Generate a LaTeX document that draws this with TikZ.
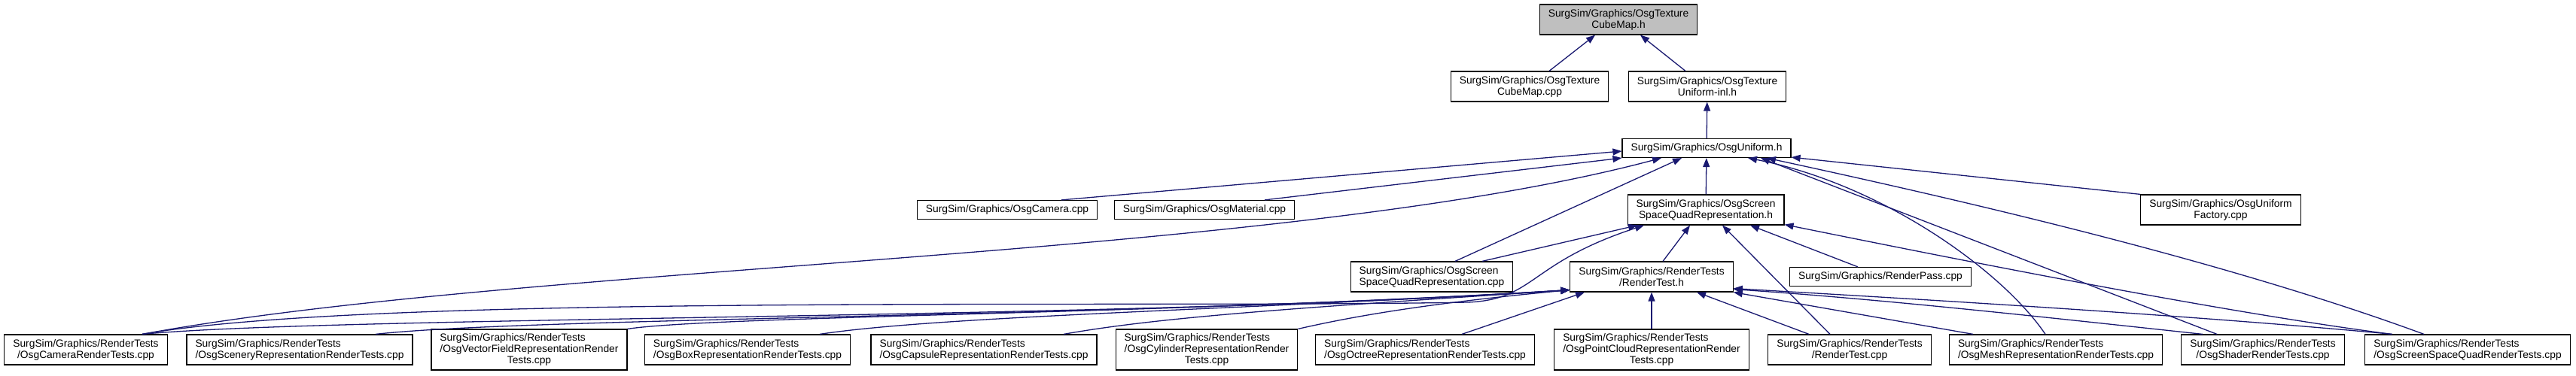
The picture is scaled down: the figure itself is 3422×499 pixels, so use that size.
\documentclass[tikz,border=0pt]{standalone}
\usepackage{fontspec}
\setmainfont{Liberation Sans}
\usetikzlibrary{arrows.meta}
\definecolor{cEDGE}{HTML}{191970}
\definecolor{cCUR}{HTML}{BFBFBF}
\newcommand{\tlab}[3]{\begin{tabular}{@{}l@{}}#1\\#2\\\multicolumn{1}{@{}c@{}}{#3}\end{tabular}}

\begin{document}
\begin{tikzpicture}[x=1pt, y=-1pt, >={Triangle[length=12pt,width=9pt]},
  font=\fontsize{13.8}{15}\selectfont,
  hdr/.style={draw, line width=1.2pt, fill=white, inner xsep=11.5pt, inner ysep=2pt, align=center},
  one/.style={hdr, minimum height=25pt},
  two/.style={hdr, minimum height=40pt},
  three/.style={hdr, minimum height=54pt},
  inc/.style={->, color=cEDGE, line width=1.3pt}]
\useasboundingbox (0,0) rectangle (3422,499);

\node[two, fill=cCUR] (cubeh) at (2150,26) {SurgSim/Graphics/OsgTexture\\CubeMap.h};
\node[two] (cubecpp) at (2032,115) {SurgSim/Graphics/OsgTexture\\CubeMap.cpp};
\node[two] (uniinl) at (2268,115) {SurgSim/Graphics/OsgTexture\\Uniform-inl.h};
\node[one] (uniformh) at (2267,197) {SurgSim/Graphics/OsgUniform.h};

\node[one] (camera) at (1338,279) {SurgSim/Graphics/OsgCamera.cpp};
\node[one] (material) at (1600,279) {SurgSim/Graphics/OsgMaterial.cpp};
\node[two] (sqrh) at (2266,279) {SurgSim/Graphics/OsgScreen\\SpaceQuadRepresentation.h};
\node[two] (factory) at (2950,279) {SurgSim/Graphics/OsgUniform\\Factory.cpp};

\node[two, align=left] (sqrcpp) at (1902,368) {SurgSim/Graphics/OsgScreen\\SpaceQuadRepresentation.cpp};
\node[two] (rth) at (2194,368) {SurgSim/Graphics/RenderTests\\/RenderTest.h};
\node[one] (renderpass) at (2498,368) {SurgSim/Graphics/RenderPass.cpp};

\node[two] (camrt) at (114,465) {SurgSim/Graphics/RenderTests\\/OsgCameraRenderTests.cpp};
\node[two, align=left] (scenery) at (398,465) {SurgSim/Graphics/RenderTests\\/OsgSceneryRepresentationRenderTests.cpp};
\node[three] (vector) at (703,465) {\tlab{SurgSim/Graphics/RenderTests}{/OsgVectorFieldRepresentationRender}{Tests.cpp}};
\node[two, align=left] (boxrt) at (993,465) {SurgSim/Graphics/RenderTests\\/OsgBoxRepresentationRenderTests.cpp};
\node[two, align=left] (capsule) at (1307,465) {SurgSim/Graphics/RenderTests\\/OsgCapsuleRepresentationRenderTests.cpp};
\node[three] (cylinder) at (1603,465) {\tlab{SurgSim/Graphics/RenderTests}{/OsgCylinderRepresentationRender}{Tests.cpp}};
\node[two, align=left] (octree) at (1893,465) {SurgSim/Graphics/RenderTests\\/OsgOctreeRepresentationRenderTests.cpp};
\node[three] (pointcloud) at (2194,465) {\tlab{SurgSim/Graphics/RenderTests}{/OsgPointCloudRepresentationRender}{Tests.cpp}};
\node[two] (rtcpp) at (2457,465) {SurgSim/Graphics/RenderTests\\/RenderTest.cpp};
\node[two, align=left] (mesh) at (2731,465) {SurgSim/Graphics/RenderTests\\/OsgMeshRepresentationRenderTests.cpp};
\node[two] (shader) at (3006,465) {SurgSim/Graphics/RenderTests\\/OsgShaderRenderTests.cpp};
\node[two, align=left] (sqrtests) at (3278,465) {SurgSim/Graphics/RenderTests\\/OsgScreenSpaceQuadRenderTests.cpp};

\draw[inc] ([xshift=26pt]cubecpp.north) -- ([xshift=-31pt]cubeh.south);
\draw[inc] ([xshift=-29pt]uniinl.north) -- ([xshift=29pt]cubeh.south);
\draw[inc] (uniformh) -- (uniinl);

\draw[inc] ([xshift=72pt]camera.north) -- ([yshift=-4pt]uniformh.west);
\draw[inc] ([xshift=80pt]material.north) -- (uniformh.south west);
\draw[inc] ([xshift=75pt]camrt.north) .. controls (700,350) and (1700,345) .. ([xshift=-60pt]uniformh.south);
\draw[inc] ([xshift=31pt]sqrcpp.north) -- ([xshift=-33pt]uniformh.south);
\draw[inc] (sqrh) -- (uniformh);
\draw[inc] ([xshift=-14pt]mesh.north) .. controls (2660,360) and (2500,245) .. ([xshift=55pt]uniformh.south);
\draw[inc] ([xshift=-61pt]shader.north) -- ([xshift=72pt]uniformh.south);
\draw[inc] ([xshift=-58pt]sqrtests.north) .. controls (2950,345) and (2600,265) .. ([xshift=80pt]uniformh.south);
\draw[inc] (factory.north west) -- ([yshift=1pt]uniformh.south east);

\draw[inc] ([xshift=67pt]sqrcpp.north) -- ([xshift=-91pt]sqrh.south);
\draw[inc] ([xshift=75pt]camrt.north) .. controls (500,390) and (1500,410) .. (1950,402)
  .. controls (2040,398) and (2030,350) .. ([xshift=-82pt]sqrh.south);
\draw[inc] ([xshift=15pt]rth.north) -- ([xshift=-21pt]sqrh.south);
\draw[inc] ([xshift=-26pt]rtcpp.north) -- ([xshift=22pt]sqrh.south);
\draw[inc] ([xshift=-30pt]renderpass.north) -- ([xshift=59pt]sqrh.south);
\draw[inc] ([xshift=-101pt]sqrtests.north) .. controls (2950,415) and (2600,345) .. ([yshift=1pt]sqrh.south east);

\draw[inc] ([xshift=75pt]camrt.north) .. controls (450,420) and (1500,425) .. ([yshift=3pt]rth.south west);
\draw[inc] ([xshift=101pt]scenery.north) .. controls (700,422) and (1500,422) .. ([yshift=3pt]rth.south west);
\draw[inc] (vector.north east) .. controls (950,420) and (1550,418) .. ([yshift=3pt]rth.south west);
\draw[inc] ([xshift=96pt]boxrt.north) .. controls (1250,420) and (1650,412) .. ([yshift=3pt]rth.south west);
\draw[inc] ([xshift=106pt]capsule.north) .. controls (1550,420) and (1750,408) .. ([yshift=3pt]rth.south west);
\draw[inc] (cylinder.north east) .. controls (1800,420) and (1900,403) .. ([yshift=3pt]rth.south west);
\draw[inc] ([xshift=49pt]octree.north) -- ([xshift=-89pt]rth.south);
\draw[inc] (pointcloud) -- (rth);
\draw[inc] ([xshift=-54pt]rtcpp.north) -- ([xshift=60pt]rth.south);
\draw[inc] ([xshift=-110pt]mesh.north) -- (rth.south east);
\draw[inc] ([xshift=-80pt]shader.north) .. controls (2700,420) and (2500,398) .. ([yshift=4pt]rth.south east);
\draw[inc] ([xshift=-100pt]sqrtests.north) .. controls (2900,418) and (2500,395) .. ([yshift=5pt]rth.south east);
\end{tikzpicture}
\end{document}
